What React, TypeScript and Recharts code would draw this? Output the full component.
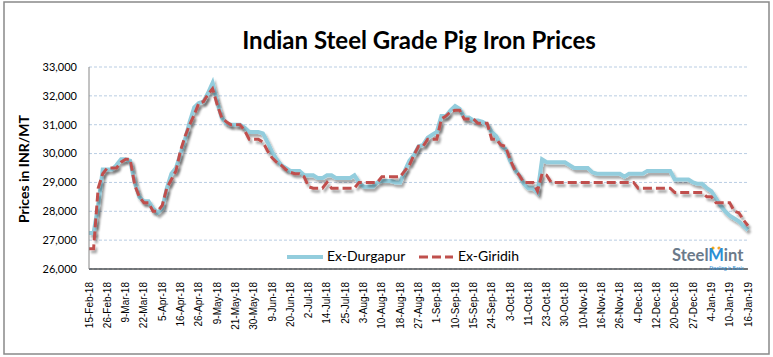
import { LineChart, Line, XAxis, YAxis, CartesianGrid } from 'recharts'

// tick labels shown on the x axis (every 4th point)
const tickLabels = [
  '15-Feb-18', '26-Feb-18', '9-Mar-18', '22-Mar-18', '5-Apr-18', '16-Apr-18', '26-Apr-18',
  '9-May-18', '21-May-18', '30-May-18', '9-Jun-18', '20-Jun-18', '2-Jul-18', '14-Jul-18',
  '25-Jul-18', '3-Aug-18', '10-Aug-18', '18-Aug-18', '27-Aug-18', '1-Sep-18', '10-Sep-18',
  '15-Sep-18', '24-Sep-18', '3-Oct-18', '11-Oct-18', '23-Oct-18', '30-Oct-18', '10-Nov-18',
  '16-Nov-18', '26-Nov-18', '4-Dec-18', '12-Dec-18', '20-Dec-18', '27-Dec-18', '4-Jan-19',
  '10-Jan-19', '16-Jan-19',
]
const POINTS_PER_LABEL = 4

// INR/MT
const durgapur = [
  27250, 27250, 28200, 29450, 29450, 29450, 29600, 29800, 29800, 29750,
  29000, 28500, 28350, 28350, 28100, 27950, 28100, 28800, 29300, 29500,
  30000, 30500, 31100, 31600, 31750, 31800, 32100, 32450, 31800, 31250,
  31050, 31000, 31000, 31000, 30900, 30750, 30750, 30750, 30700, 30400,
  30050, 29800, 29600, 29500, 29400, 29400, 29400, 29250, 29250, 29250,
  29150, 29150, 29250, 29250, 29150, 29150, 29150, 29150, 29250, 29000,
  28850, 28850, 28850, 29000, 29050, 29050, 29050, 29000, 29000, 29400,
  29750, 29950, 30250, 30300, 30550, 30650, 30750, 31300, 31300, 31500,
  31650, 31550, 31250, 31250, 31150, 31150, 31100, 31000, 30750, 30600,
  30300, 30150, 29750, 29450, 29250, 28950, 28800, 28800, 28650, 29800,
  29700, 29700, 29700, 29700, 29700, 29600, 29500, 29500, 29500, 29500,
  29350, 29300, 29300, 29300, 29300, 29300, 29300, 29200, 29300, 29300,
  29300, 29300, 29400, 29400, 29400, 29400, 29400, 29400, 29100, 29100,
  29100, 29100, 29000, 28950, 28950, 28800, 28700, 28450, 28200, 28000,
  27850, 27750, 27650, 27500, 27350,
]

const giridih = [
  26700, 26700, 28800, 29300, 29500, 29500, 29500, 29700, 29800, 29800,
  28900, 28500, 28300, 28300, 28000, 28000, 28200, 28800, 29100, 29400,
  30100, 30600, 31000, 31350, 31750, 31800, 32050, 32250, 31700, 31250,
  31100, 31000, 31000, 31000, 30800, 30500, 30500, 30500, 30400, 30100,
  29850, 29700, 29600, 29450, 29350, 29300, 29300, 29200, 28850, 28800,
  28800, 28800, 29000, 28800, 28800, 28800, 28800, 28800, 28800, 29000,
  29000, 29000, 29000, 29000, 29200, 29200, 29200, 29200, 29200, 29400,
  29600, 29950, 30250, 30250, 30500, 30500, 30500, 31200, 31300, 31450,
  31500, 31500, 31200, 31200, 31200, 31050, 31050, 31050, 30500, 30500,
  30300, 30250, 29800, 29450, 29250, 29000, 29000, 29000, 28700, 29300,
  29250, 29000, 29000, 29000, 29000, 29000, 29000, 29000, 29000, 29000,
  29000, 29000, 29000, 29000, 29000, 29000, 29000, 29000, 29000, 29000,
  28800, 28800, 28800, 28800, 28800, 28800, 28800, 28800, 28650, 28650,
  28650, 28650, 28650, 28650, 28650, 28500, 28500, 28300, 28300, 28300,
  28300, 28000, 27950, 27700, 27500,
]

const yTicks = [26000, 27000, 28000, 29000, 30000, 31000, 32000, 33000]

const data = durgapur.map((v, i) => ({ idx: i, durgapur: v, giridih: giridih[i] }))
const xTicks = tickLabels.map((_, i) => i * POINTS_PER_LABEL)

const BLUE = '#93CDDD'
const RED = '#C0504D'
const CALIBRI = 'Lato, "Open Sans", sans-serif'

function DateTick({ x, payload }: any) {
  const label = tickLabels[Math.round(payload.value / POINTS_PER_LABEL)]
  return (
    <text
      transform={`translate(${x + 3.5}, 282) rotate(-90)`}
      textAnchor="end"
      fontSize={10}
      fontFamily='"Liberation Sans Narrow", "Liberation Sans", sans-serif'
      fill="#000"
    >
      {label}
    </text>
  )
}

export default function App() {
  return (
    <div style={{ position: 'absolute', left: 0, top: 0, width: 773, height: 357, background: '#fff' }}>
      <style>{`.recharts-line-curve { filter: url(#lineShadow); }`}</style>
      <svg width={0} height={0} style={{ position: 'absolute' }}>
        <defs>
          <filter id="lineShadow" x="-5%" y="-5%" width="110%" height="120%">
            <feDropShadow dx="2" dy="3" stdDeviation="1.3" floodColor="#000" floodOpacity="0.35" />
          </filter>
        </defs>
      </svg>

      <LineChart width={773} height={357} data={data} margin={{ top: 67, right: 25, left: 0, bottom: 0 }}>
        <CartesianGrid vertical={false} stroke="#B9CDE3" strokeDasharray="3 2" />
        <XAxis
          dataKey="idx"
          type="number"
          domain={[0, durgapur.length - 1]}
          ticks={xTicks}
          interval={0}
          tick={<DateTick />}
          tickLine={false}
          axisLine={{ stroke: '#000', strokeWidth: 1.2 }}
          height={88}
        />
        <YAxis
          domain={[26000, 33000]}
          ticks={yTicks}
          interval={0}
          tickFormatter={(v: number) => v.toLocaleString('en-US')}
          tick={{ fontSize: 11, fontFamily: CALIBRI, fill: '#000' }}
          tickLine={false}
          tickSize={0}
          tickMargin={12}
          axisLine={{ stroke: '#868686' }}
          width={89}
        />
        <Line
          type="linear"
          dataKey="durgapur"
          stroke={BLUE}
          strokeWidth={4}
          dot={false}
          isAnimationActive={false}
        />
        <Line
          type="linear"
          dataKey="giridih"
          stroke={RED}
          strokeWidth={3}
          strokeDasharray="9 4"
          dot={false}
          isAnimationActive={false}
        />
      </LineChart>

      <svg width={773} height={357} style={{ position: 'absolute', left: 0, top: 0, pointerEvents: 'none' }}>
        <rect x={4} y={2} width={765} height={352} fill="none" stroke="#898989" strokeWidth={1.5} />
        <text x={419} y={49} textAnchor="middle" fontFamily={CALIBRI} fontWeight={700} fontSize={24} fill="#000">
          Indian Steel Grade Pig Iron Prices
        </text>
        <text
          transform="translate(29, 169) rotate(-90)"
          textAnchor="middle"
          fontFamily={CALIBRI}
          fontWeight={700}
          fontSize={14}
          fill="#000"
        >
          Prices in INR/MT
        </text>

        {/* legend */}
        <line x1={287} y1={257} x2={323} y2={257} stroke={BLUE} strokeWidth={4} />
        <text x={327} y={261} fontFamily={CALIBRI} fontSize={14} fill="#000">Ex-Durgapur</text>
        <line x1={419} y1={257} x2={453} y2={257} stroke={RED} strokeWidth={3} strokeDasharray="9 4" />
        <text x={458} y={261} fontFamily={CALIBRI} fontSize={14} fill="#000">Ex-Giridih</text>

        {/* logo */}
        <circle cx={713} cy={248} r={1.6} fill="#F5A623" />
        <circle cx={719} cy={248} r={1.6} fill="#F5A623" />
        <text x={672} y={260.5} fontFamily={CALIBRI} fontWeight={700} fontSize={16.5} fill="#6B7A8A">
          Steel<tspan fill="#2B8FD4">M</tspan>int
        </text>
        <text x={744} y={269.5} textAnchor="end" fontFamily={CALIBRI} fontSize={5} fill="#2B8FD4">
          Steeling is Basic
        </text>
      </svg>
    </div>
  )
}
